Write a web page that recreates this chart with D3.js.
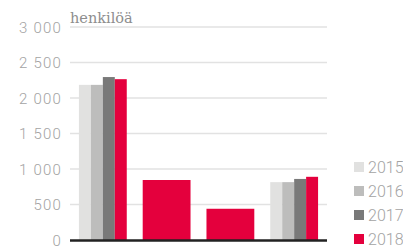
<!DOCTYPE html>
<html>
<head>
<meta charset="utf-8">
<script src="https://cdn.jsdelivr.net/npm/d3@7"></script>
<style>
  body { margin: 0; background: #fff; }
  text { font-family: Roboto, "Open Sans", sans-serif; }
</style>
</head>
<body>
<div id="chart"></div>
<script>
const width = 403, height = 246;

// data
const categories = ["A", "B", "C", "D"];
const years = ["2015", "2016", "2017", "2018"];
const v2015 = [2185, null, null, 815];
const v2016 = [2185, null, null, 815];
const v2017 = [2295, null, null, 860];
const v2018 = [2265, 845, 440, 890];
const yTicks = [0, 500, 1000, 1500, 2000, 2500, 3000];
const yUnit = "henkilöä";

const series = [v2015, v2016, v2017, v2018];
const colors = ["#e1e1e0", "#bdbdbc", "#797979", "#e4003d"];

const svg = d3.select("#chart").append("svg")
    .attr("width", width)
    .attr("height", height);

const x = d3.scaleBand()
    .domain(categories)
    .range([70, 327])
    .paddingInner(0.25)
    .paddingOuter(0.14);

const y = d3.scaleLinear()
    .domain([0, 3000])
    .range([240, 27]);

const fmt = d => d3.format(",")(d).replace(/,/g, " ");

// grid lines
svg.append("g")
  .selectAll("line")
  .data(yTicks.filter(d => d > 0))
  .join("line")
    .attr("x1", 70)
    .attr("x2", 327)
    .attr("y1", d => y(d))
    .attr("y2", d => y(d))
    .attr("stroke", "#e2e2e2")
    .attr("stroke-width", 1.5);

// y labels
svg.append("g")
  .selectAll("text")
  .data(yTicks)
  .join("text")
    .attr("x", 62)
    .attr("y", d => y(d) + 5.5)
    .attr("text-anchor", "end")
    .attr("fill", "#a3a3a3")
    .style("font-size", "15px")
    .style("font-weight", 300)
    .style("letter-spacing", "1.2px")
    .text(d => fmt(d));

svg.append("text")
    .attr("x", 70)
    .attr("y", 23)
    .attr("fill", "#8e8e8e")
    .style("font-family", "'DejaVu Serif', serif")
    .style("font-size", "14.5px")
    .style("font-weight", 300)
    .text(yUnit);

// bars
const groups = svg.append("g")
  .selectAll("g")
  .data(categories)
  .join("g")
    .attr("transform", d => `translate(${x(d)},0)`);

groups.each(function(cat, ci) {
  const present = years.map((yr, si) => ({ yr, si, v: series[si][ci] }))
      .filter(d => d.v != null);
  const x1 = d3.scaleBand()
      .domain(present.map(d => d.yr))
      .range([0, x.bandwidth()]);
  d3.select(this).selectAll("rect")
    .data(present)
    .join("rect")
      .attr("x", d => x1(d.yr))
      .attr("width", x1.bandwidth())
      .attr("y", d => y(d.v))
      .attr("height", d => y(0) - y(d.v))
      .attr("fill", d => colors[d.si]);
});

// baseline
svg.append("line")
    .attr("x1", 70)
    .attr("x2", 327)
    .attr("y1", y(0) + 0.5)
    .attr("y2", y(0) + 0.5)
    .attr("stroke", "#222")
    .attr("stroke-width", 2.5);

// legend
const legend = svg.append("g")
  .selectAll("g")
  .data(years)
  .join("g")
    .attr("transform", (d, i) => `translate(354,${167 + i * 24})`);

legend.append("rect")
    .attr("x", 0)
    .attr("y", -5)
    .attr("width", 10)
    .attr("height", 10)
    .attr("fill", (d, i) => colors[i]);

legend.append("text")
    .attr("x", 14)
    .attr("y", 6)
    .attr("fill", "#a3a3a3")
    .style("font-size", "16px")
    .style("font-weight", 300)
    .text(d => d);
</script>
</body>
</html>
